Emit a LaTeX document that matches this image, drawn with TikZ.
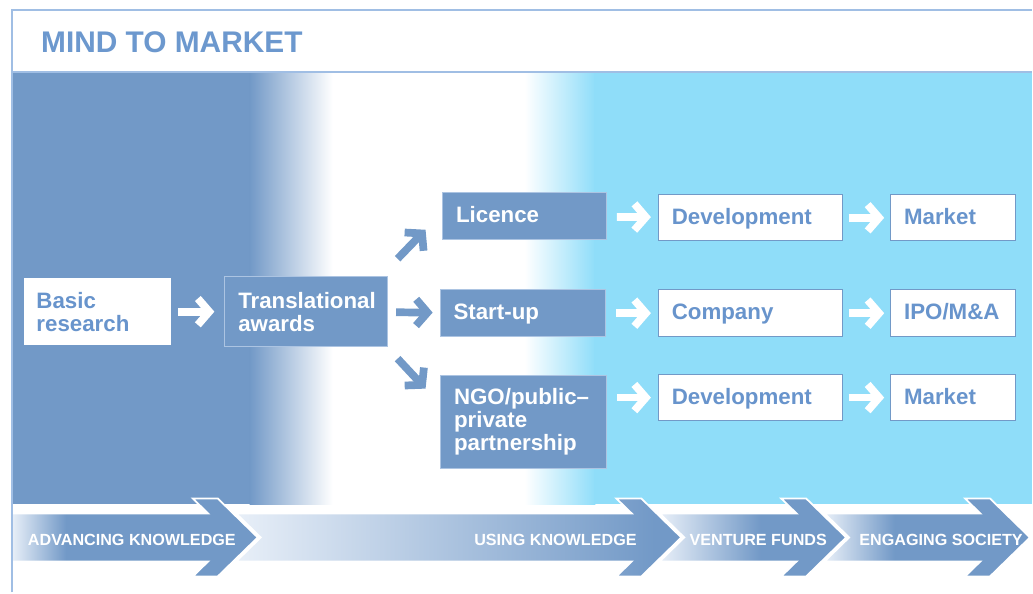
\documentclass[tikz,border=0pt]{standalone}
\usepackage{fontspec}
\setmainfont{Liberation Sans}
\usetikzlibrary{arrows.meta, positioning}

\definecolor{mblue}{RGB}{114,153,199}
\definecolor{cyanbg}{RGB}{143,221,249}
\definecolor{titleblue}{RGB}{108,152,206}
\definecolor{textblue}{RGB}{104,148,204}
\definecolor{edgeblue}{RGB}{172,196,226}
\definecolor{frameblue}{RGB}{160,190,228}
\definecolor{bandlight}{RGB}{232,239,248}

% horizontal shadings for the four stage arrows
\pgfdeclarehorizontalshading{bandA}{100bp}{color(0bp)=(bandlight); color(25bp)=(bandlight); color(36bp)=(mblue); color(100bp)=(mblue)}
\pgfdeclarehorizontalshading{bandB}{100bp}{color(0bp)=(bandlight); color(25bp)=(bandlight); color(72bp)=(mblue); color(100bp)=(mblue)}
\pgfdeclarehorizontalshading{bandC}{100bp}{color(0bp)=(bandlight); color(25bp)=(bandlight); color(52bp)=(mblue); color(100bp)=(mblue)}
\pgfdeclarehorizontalshading{bandD}{100bp}{color(0bp)=(bandlight); color(25bp)=(bandlight); color(42bp)=(mblue); color(100bp)=(mblue)}

\newcommand{\boxfont}{\bfseries\fontsize{12.7}{13}\selectfont}
\newcommand{\bandfont}{\bfseries\fontsize{9.2}{11}\selectfont}
\newcommand{\titlefont}{\bfseries\fontsize{17}{20}\selectfont}

\begin{document}
\begin{tikzpicture}[
    x=0.02cm, y=-0.02cm,
    box/.style={font=\boxfont, align=left, inner xsep=0.27cm, inner ysep=0pt, line width=0.5pt},
    oneline/.style={text height=1.4ex, text depth=0pt},
    bluebox/.style={box, fill=mblue, draw=edgeblue, text=white},
    whitebox/.style={box, oneline, fill=white, draw=mblue, text=textblue},
    fatarrow/.style={line width=4.4pt, -{Straight Barb[length=6.5pt, width=15pt]}},
    band/.style={draw=white, line width=1pt},
    bandtext/.style={font=\bandfont, text=white},
]

    % background: blue, white, then light blue
    \fill[white] (0,0) rectangle (1033,593);
    \fill[mblue] (12,72) rectangle (251,505);
    \shade[left color=mblue, right color=white] (250,72) rectangle (333,505);
    \shade[left color=white, right color=cyanbg] (525,72) rectangle (596,505);
    \fill[cyanbg] (595,72) rectangle (1033,505);

    \node[anchor=base west, font=\titlefont, text=titleblue] (title) at (35,53) {MIND TO MARKET};

    % boxes
    \node[box, fill=white, draw=mblue, text=textblue, text width=2.44cm, minimum height=1.36cm] (basic) at (97.5,312) {Basic\\research};
    \node[bluebox,  text width=2.72cm, minimum height=1.40cm] (trans)   at (306.5,312) {Translational\\awards};
    \node[bluebox,  oneline, text width=2.74cm, minimum height=0.94cm] (licence) at (525,216.5) {Licence};
    \node[bluebox,  oneline, text width=2.78cm, minimum height=0.94cm] (startup) at (523.5,313.5) {Start-up};
    \node[bluebox,  text width=2.78cm, minimum height=1.86cm] (ngo)     at (524,422)   {NGO/public--\\private\\partnership};
    \node[whitebox, text width=3.14cm, minimum height=0.92cm] (dev1)    at (751,218)   {Development};
    \node[whitebox, text width=3.14cm, minimum height=0.94cm] (comp)    at (751,313.5) {Company};
    \node[whitebox, text width=3.14cm, minimum height=0.92cm] (dev2)    at (751,398)   {Development};
    \node[whitebox, text width=1.96cm, minimum height=0.92cm] (mkt1)    at (954,218)   {Market};
    \node[whitebox, text width=1.96cm, minimum height=0.94cm] (ipo)     at (954,313.5) {IPO/M\&A};
    \node[whitebox, text width=1.96cm, minimum height=0.92cm] (mkt2)    at (954,398)   {Market};

    % arrows
    \coordinate (upfrom) at (398,259);
    \coordinate (upto)   at (426,230);
    \coordinate (dnfrom) at (398,359);
    \coordinate (dnto)   at (426,389);

    \draw[fatarrow, white, shorten <=0.12cm, shorten >=0.2cm] (basic) -- (trans);
    \draw[fatarrow, mblue, shorten <=0.16cm, shorten >=0.14cm] (trans) -- (startup);
    \draw[fatarrow, mblue] (upfrom) -- (upto);
    \draw[fatarrow, mblue] (dnfrom) -- (dnto);

    \draw[fatarrow, white, shorten <=0.2cm, shorten >=0.14cm] (licence) -- (dev1);
    \draw[fatarrow, white, shorten <=0.2cm, shorten >=0.14cm] (startup) -- (comp);
    \draw[fatarrow, white, shorten <=0.2cm, shorten >=0.14cm] (ngo.east |- dev2) -- (dev2);
    \draw[fatarrow, white, shorten <=0.12cm, shorten >=0.12cm] (dev1) -- (mkt1);
    \draw[fatarrow, white, shorten <=0.12cm, shorten >=0.12cm] (comp) -- (ipo);
    \draw[fatarrow, white, shorten <=0.12cm, shorten >=0.12cm] (dev2) -- (mkt2);

    % stage arrows along the bottom
    \shadedraw[band, shading=bandA] (12,514) -- (208.4,514) -- (193,499) -- (218,499) -- (258,538)
        -- (218,577) -- (193,577) -- (208.4,562) -- (12,562) -- cycle;
    \foreach \p/\f/\s in {218/642/bandB, 642/807/bandC, 807/991/bandD}
        \shadedraw[band, shading=\s] (\p+18.4,514) -- (\p+43,538) -- (\p+18.4,562) -- (\f-9.6,562)
            -- (\f-25,577) -- (\f,577) -- (\f+40,538) -- (\f,499) -- (\f-25,499) -- (\f-9.6,514) -- cycle;

    \node[bandtext] (advk) at (132,540) {ADVANCING KNOWLEDGE};
    \node[bandtext] (usek) at (556,540) {USING KNOWLEDGE};
    \node[bandtext] (vent) at (759,540) {VENTURE FUNDS};
    \node[bandtext] (engs) at (942,540) {ENGAGING SOCIETY};

    % frame
    \draw[frameblue, line width=1.2pt] (12,593) -- (12,10) -- (1033,10);
    \draw[frameblue, line width=0.8pt] (12,72) -- (1033,72);

\end{tikzpicture}
\end{document}
